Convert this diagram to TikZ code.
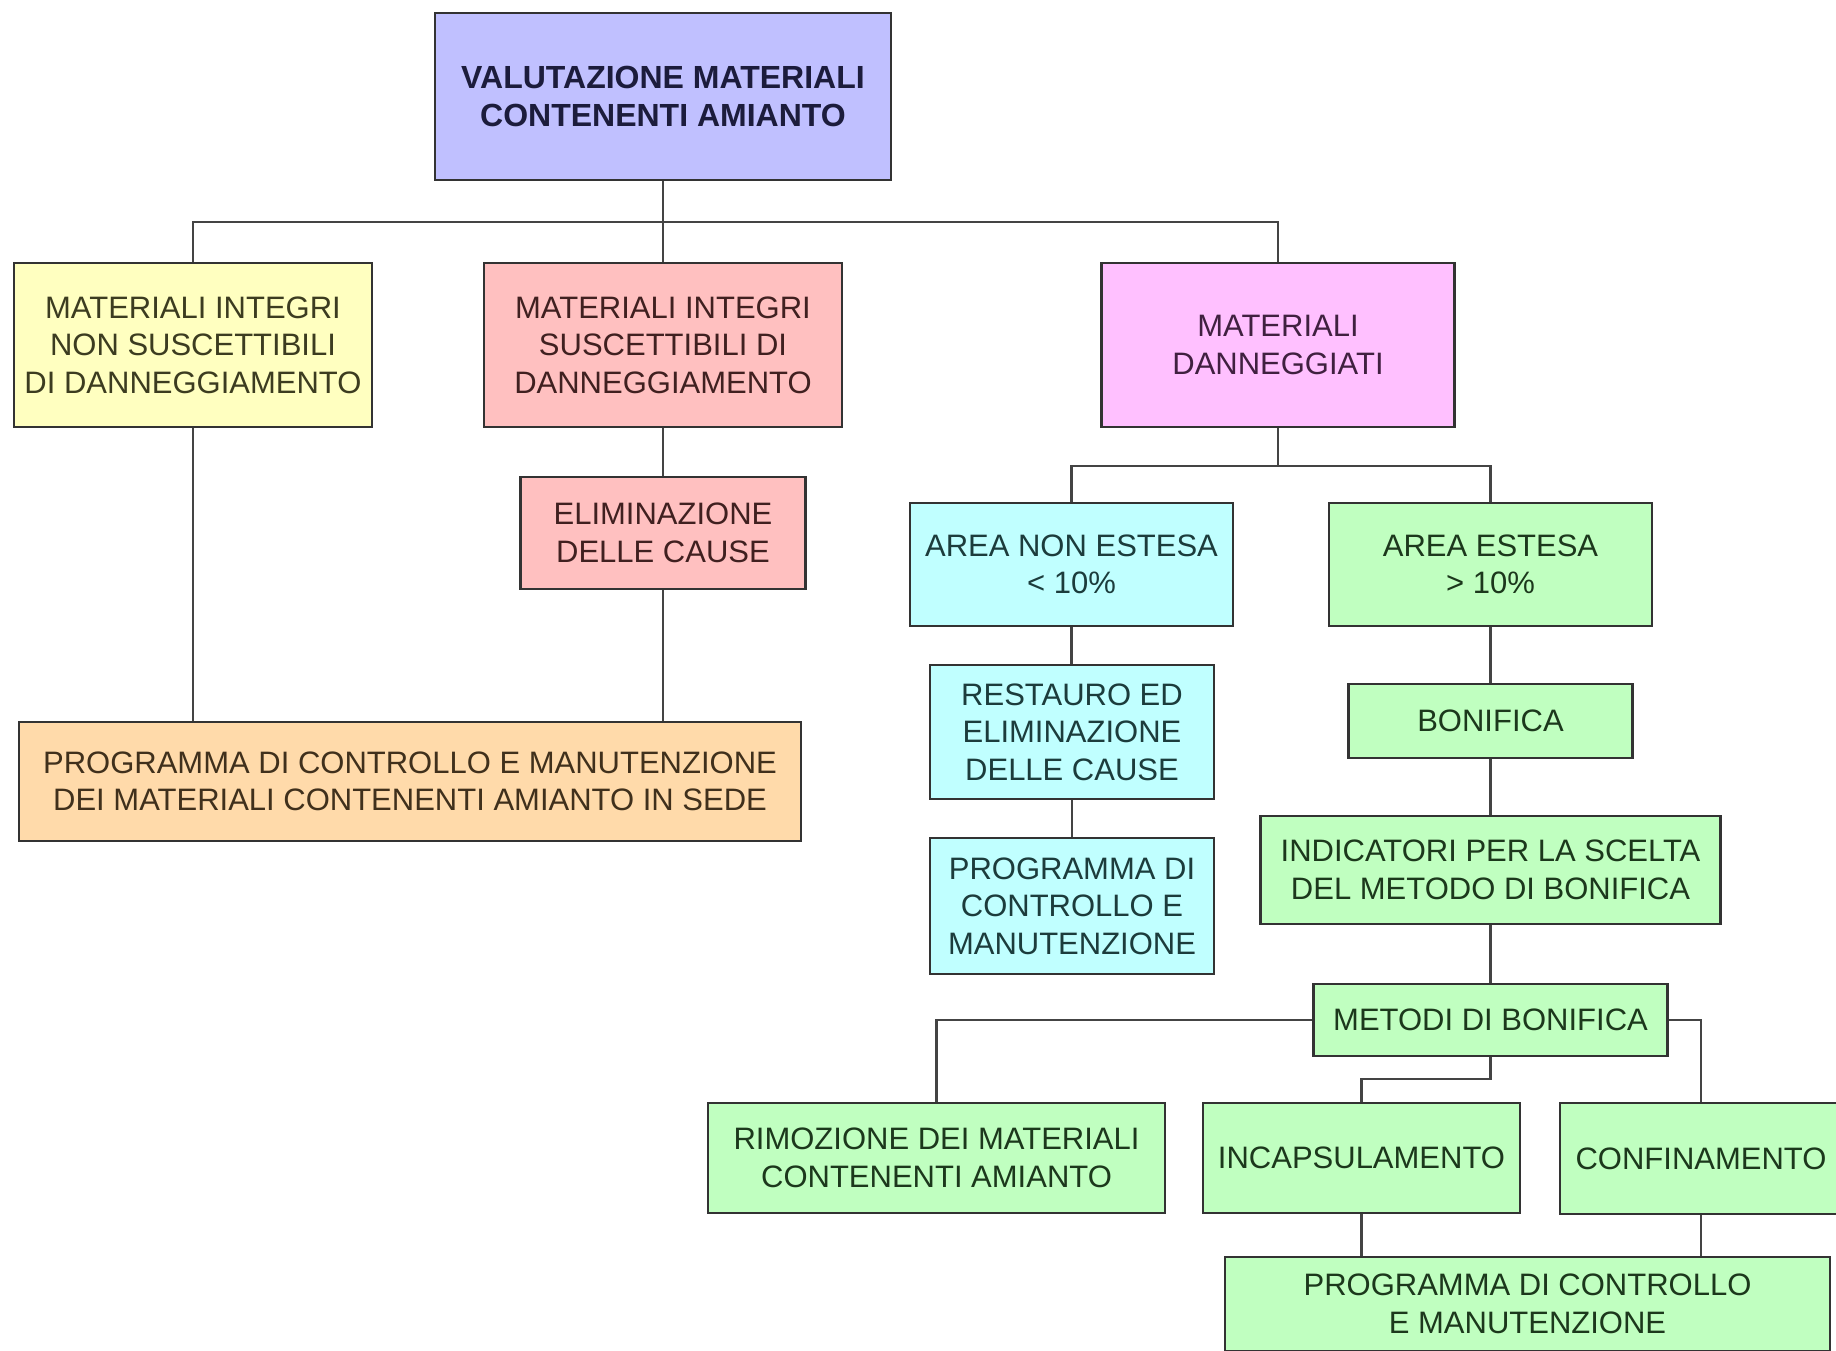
\documentclass[tikz,border=0pt]{standalone}
\usepackage{fontspec}
\setmainfont{Liberation Sans}
\definecolor{cTop}{HTML}{C0C0FF}
\definecolor{cYel}{HTML}{FFFFC0}
\definecolor{cPink}{HTML}{FFC0C0}
\definecolor{cMag}{HTML}{FFC0FF}
\definecolor{cOra}{HTML}{FFDAAA}
\definecolor{cCya}{HTML}{C0FFFF}
\definecolor{cGre}{HTML}{C0FFC0}
\definecolor{cBord}{HTML}{333333}
\definecolor{cLine}{HTML}{444444}
\tikzset{
  box/.style={draw=cBord, line width=1.1pt, rectangle, align=center, inner sep=0pt,
    font=\fontsize{15.5}{18.7}\selectfont},
  conn/.style={draw=cLine, line width=1.2pt},
  tTop/.style={fill=cTop, text={rgb,255:red,28;green,28;blue,60}, font=\fontsize{16}{18.7}\selectfont\bfseries},
  tYel/.style={fill=cYel, text={rgb,255:red,60;green,60;blue,32}},
  tPink/.style={fill=cPink, text={rgb,255:red,64;green,32;blue,32}},
  tMag/.style={fill=cMag, text={rgb,255:red,64;green,32;blue,64}},
  tOra/.style={fill=cOra, text={rgb,255:red,64;green,48;blue,28}},
  tCya/.style={fill=cCya, text={rgb,255:red,28;green,60;blue,60}},
  tGre/.style={fill=cGre, text={rgb,255:red,28;green,56;blue,28}},
}
\begin{document}
\begin{tikzpicture}[x=0.5pt,y=-0.5pt]
\useasboundingbox (0,0) rectangle (1836,1350);
\fill[white] (0,0) rectangle (1836,1350);
\begin{scope}
\clip (0,0) rectangle (1836,1350);
% nodes
\node[box,tTop, minimum width=228pt, minimum height=83.5pt] (top) at (663,96.5) {VALUTAZIONE MATERIALI\\CONTENENTI AMIANTO};
\node[box,tYel, minimum width=179pt, minimum height=82pt] (A) at (193,345) {MATERIALI INTEGRI\\NON SUSCETTIBILI\\DI DANNEGGIAMENTO};
\node[box,tPink, minimum width=179pt, minimum height=82pt] (B) at (663,345) {MATERIALI INTEGRI\\SUSCETTIBILI DI\\DANNEGGIAMENTO};
\node[box,tMag, minimum width=176.5pt, minimum height=82pt] (C) at (1278,345) {MATERIALI\\DANNEGGIATI};
\node[box,tPink, minimum width=142.5pt, minimum height=56pt] (elim) at (663,533) {ELIMINAZIONE\\DELLE CAUSE};
\node[box,tOra, minimum width=391pt, minimum height=59.5pt] (prog) at (410,781.5) {PROGRAMMA DI CONTROLLO E MANUTENZIONE\\DEI MATERIALI CONTENENTI AMIANTO IN SEDE};
\node[box,tCya, minimum width=161.5pt, minimum height=61.5pt] (ane) at (1071.5,564.5) {AREA NON ESTESA\\< 10\%};
\node[box,tGre, minimum width=161.5pt, minimum height=61.5pt] (ae) at (1490.5,564.5) {AREA ESTESA\\> 10\%};
\node[box,tCya, minimum width=142pt, minimum height=67pt] (rest) at (1072,732) {RESTAURO ED\\ELIMINAZIONE\\DELLE CAUSE};
\node[box,tCya, minimum width=142pt, minimum height=68pt] (progc) at (1072,906) {PROGRAMMA DI\\CONTROLLO E\\MANUTENZIONE};
\node[box,tGre, minimum width=142pt, minimum height=37pt] (bon) at (1490.5,721) {BONIFICA};
\node[box,tGre, minimum width=230pt, minimum height=54pt] (ind) at (1490.5,870) {INDICATORI PER LA SCELTA\\DEL METODO DI BONIFICA};
\node[box,tGre, minimum width=177pt, minimum height=36pt] (met) at (1490.5,1020) {METODI DI BONIFICA};
\node[box,tGre, minimum width=228.5pt, minimum height=55pt] (rim) at (936.5,1158) {RIMOZIONE DEI MATERIALI\\CONTENENTI AMIANTO};
\node[box,tGre, minimum width=158.5pt, minimum height=55pt] (inc) at (1361.5,1158) {INCAPSULAMENTO};
\node[box,tGre, minimum width=141pt, minimum height=55.5pt] (conf) at (1701,1158.5) {CONFINAMENTO};
\node[box,tGre, minimum width=302.5pt, minimum height=47pt] (fin) at (1527.5,1304) {PROGRAMMA DI CONTROLLO\\E MANUTENZIONE};
% connectors
\draw[conn] (top.south) -- (B.north);
\draw[conn] (top.south) -- ++(0,41) -| (A.north);
\draw[conn] (top.south) -- ++(0,41) -| (C.north);
\draw[conn] (A.south) -- (A.south |- prog.north);
\draw[conn] (B.south) -- (elim.north);
\draw[conn] (elim.south) -- (elim.south |- prog.north);
\draw[conn] (C.south) -- ++(0,38) -| (ane.north);
\draw[conn] (C.south) -- ++(0,38) -| (ae.north);
\draw[conn] (ane.south) -- (ane.south |- rest.north);
\draw[conn] (rest.south) -- (progc.north);
\draw[conn] (ae.south) -- (bon.north);
\draw[conn] (bon.south) -- (ind.north);
\draw[conn] (ind.south) -- (met.north);
\draw[conn] (met.west) -| (rim.north);
\draw[conn] (met.east) -| (conf.north);
\draw[conn] (met.south) -- ++(0,22) -| (inc.north);
\draw[conn] (inc.south) -- (inc.south |- fin.north);
\draw[conn] (conf.south) -- (conf.south |- fin.north);
\end{scope}
\end{tikzpicture}
\end{document}
